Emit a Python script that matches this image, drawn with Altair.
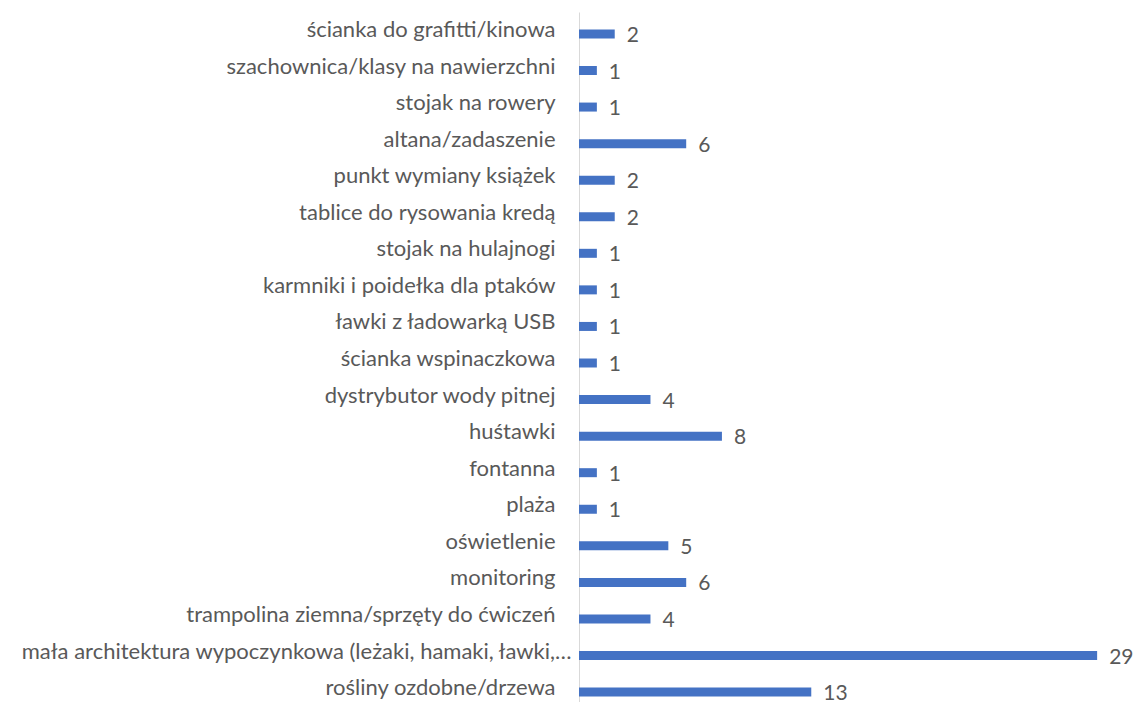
import altair as alt
import pandas as pd

categories = [
    "ścianka do grafitti/kinowa",
    "szachownica/klasy na nawierzchni",
    "stojak na rowery",
    "altana/zadaszenie",
    "punkt wymiany książek",
    "tablice do rysowania kredą",
    "stojak na hulajnogi",
    "karmniki i poidełka dla ptaków",
    "ławki z ładowarką USB",
    "ścianka wspinaczkowa",
    "dystrybutor wody pitnej",
    "huśtawki",
    "fontanna",
    "plaża",
    "oświetlenie",
    "monitoring",
    "trampolina ziemna/sprzęty do ćwiczeń",
    "mała architektura wypoczynkowa (leżaki, hamaki, ławki,…",
    "rośliny ozdobne/drzewa",
]
values = [2, 1, 1, 6, 2, 2, 1, 1, 1, 1, 4, 8, 1, 1, 5, 6, 4, 29, 13]

df = pd.DataFrame({"kategoria": categories, "liczba": values})

FONT = "Lato"
TEXT = "#595959"
BAR = "#4472C4"
LONG = categories[17]

x = alt.X("liczba:Q", title=None, scale=alt.Scale(domain=[0, 30], nice=False, zero=True), axis=None)
y = alt.Y(
    "kategoria:N",
    sort=categories,
    title=None,
    scale=alt.Scale(paddingInner=0, paddingOuter=0.1),
    axis=alt.Axis(
        domain=True,
        domainColor="#D9D9D9",
        domainWidth=1,
        ticks=False,
        grid=False,
        labelFont=FONT,
        labelFontSize=22,
        labelColor=TEXT,
        labelPadding={"condition": {"test": f"datum.value === '{LONG}'", "value": 8}, "value": 24},
        labelLimit=700,
        labelOffset=-4,
    ),
)

bars = alt.Chart(df).mark_bar(color=BAR, size=9).encode(x=x, y=y)
labels = alt.Chart(df).mark_text(
    align="left", baseline="middle", dx=12, dy=2, font=FONT, fontSize=21, color=TEXT
).encode(x=x, y=alt.Y("kategoria:N", sort=categories), text="liczba:Q")

chart = (
    (bars + labels)
    .properties(
        width=536,
        height=702,
        padding={"left": 571, "top": 4, "right": 20, "bottom": 4},
        autosize=alt.AutoSizeParams(type="none"),
    )
    .configure_view(stroke=None)
)

chart.save("out.html", embed_options={"renderer": "svg", "actions": False})
